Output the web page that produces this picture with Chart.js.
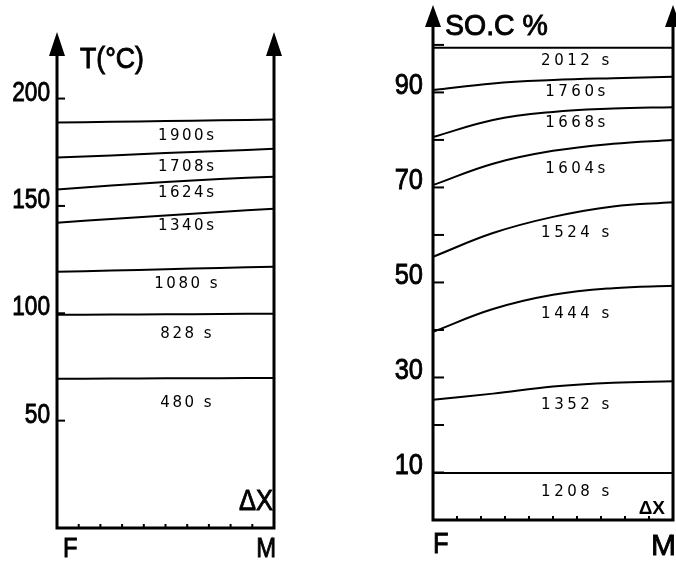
<!DOCTYPE html>
<html>
<head>
<meta charset="utf-8">
<script src="https://cdn.jsdelivr.net/npm/chart.js@4/dist/chart.umd.min.js"></script>
<style>
  html, body { margin: 0; padding: 0; background: #fff; width: 676px; height: 563px; overflow: hidden; }
  .panel { position: absolute; top: 0; }
</style>
</head>
<body>
<div class="panel" style="left:0"><canvas id="tempChart" width="330" height="563"></canvas></div>
<div class="panel" style="left:340px"><canvas id="socChart" width="336" height="563"></canvas></div>
<script>
// position along the cell, F = 0 ... M = 10
const xSteps = [0, 2.5, 5, 7.5, 10];

// temperature profiles (°C)
const t1900 = [188.8, 189.2, 189.5, 189.9, 190.2];
const t1708 = [172.5, 173.5, 174.6, 175.6, 176.6];
const t1624 = [157.6, 159.5, 161.1, 162.5, 163.6];
const t1340 = [142.2, 143.9, 145.5, 147.2, 148.7];
const t1080 = [119.3, 119.9, 120.5, 121.1, 121.7];
const t828  = [99.3, 99.4, 99.5, 99.7, 99.8];
const t480  = [69.5, 69.6, 69.7, 69.8, 69.9];
const tempTimes = ['1900s', '1708s', '1624s', '1340s', '1080 s', '828 s', '480 s'];
const tempTicks = [50, 100, 150, 200];

// state of charge profiles (%)
const s2012 = [99.4, 99.4, 99.4, 99.4, 99.4];
const s1760 = [90.5, 91.9, 92.6, 93.0, 93.3];
const s1668 = [80.6, 84.2, 85.9, 86.6, 86.9];
const s1604 = [70.5, 75.0, 77.7, 79.2, 80.0];
const s1524 = [55.4, 60.4, 63.8, 66.0, 66.9];
const s1444 = [39.6, 44.4, 47.4, 48.8, 49.3];
const s1352 = [25.3, 26.6, 28.1, 28.9, 29.2];
const s1208 = [9.9, 9.9, 9.9, 9.9, 9.9];
const socTimes = ['2012 s', '1760s', '1668s', '1604s', '1524 s', '1444 s', '1352 s', '1208 s'];
const socTicks = [10, 30, 50, 70, 90];
const socMinor = [20, 40, 60, 80, 100];

function makeDatasets(curves) {
  return curves.map(c => ({
    data: xSteps.map((x, i) => ({ x: x, y: c[i] })),
    borderColor: '#000',
    borderWidth: 2,
    pointRadius: 0,
    tension: 0.4
  }));
}

// text squeezed horizontally, the scan uses a narrow and heavy lettering
function narrowText(ctx, str, x, y, sx, align, weight) {
  ctx.save();
  ctx.translate(x, y);
  ctx.scale(sx, 1);
  ctx.textAlign = align;
  ctx.fillText(str, 0, 0);
  if (weight) {
    ctx.lineWidth = weight;
    ctx.strokeText(str, 0, 0);
  }
  ctx.restore();
}

function valueAt(data, x) {
  for (let i = 1; i < data.length; i++) {
    if (x <= data[i].x) {
      const a = data[i - 1], b = data[i];
      return a.y + (b.y - a.y) * (x - a.x) / (b.x - a.x);
    }
  }
  return data[data.length - 1].y;
}

const sketchPlugin = {
  id: 'sketch',
  afterDatasetsDraw(chart, args, opts) {
    const ctx = chart.ctx;
    const area = chart.chartArea;
    const xs = chart.scales.x, ys = chart.scales.y;
    ctx.save();
    ctx.strokeStyle = '#000';
    ctx.fillStyle = '#000';

    // frame with the two arrows
    ctx.lineWidth = 3;
    ctx.beginPath();
    ctx.moveTo(area.left, area.top + opts.arrow[1] - 2);
    ctx.lineTo(area.left, area.bottom);
    ctx.lineTo(area.right, area.bottom);
    ctx.lineTo(area.right, area.top + opts.arrow[1] - 2);
    ctx.stroke();
    [area.left, area.right].forEach(x => {
      ctx.beginPath();
      ctx.moveTo(x, area.top);
      ctx.lineTo(x - opts.arrow[0] / 2, area.top + opts.arrow[1]);
      ctx.lineTo(x + opts.arrow[0] / 2, area.top + opts.arrow[1]);
      ctx.closePath();
      ctx.fill();
    });

    // small ticks along the bottom
    ctx.lineWidth = 2;
    for (let i = 1; i < 10; i++) {
      const x = xs.getPixelForValue(i);
      ctx.beginPath();
      ctx.moveTo(x, area.bottom);
      ctx.lineTo(x, area.bottom - 4);
      ctx.stroke();
    }

    // y ticks pointing inwards
    opts.ticks.concat(opts.minor).forEach(v => {
      const y = ys.getPixelForValue(v);
      ctx.beginPath();
      ctx.moveTo(area.left, y);
      ctx.lineTo(area.left + opts.tickLen, y);
      ctx.stroke();
    });

    // y tick labels
    ctx.font = opts.tickFont;
    ctx.textBaseline = 'alphabetic';
    opts.ticks.forEach(v => {
      narrowText(ctx, String(v), area.left - opts.labelGap, ys.getPixelForValue(v) + 2, opts.squeeze, 'right', 0.9);
    });

    // titles: axis name, ΔX, F and M
    opts.texts.forEach(t => {
      ctx.font = t.font;
      narrowText(ctx, t.text, t.x, t.y, t.sx, t.align, t.weight);
    });

    // time labels under each curve
    ctx.font = opts.curveFont;
    ctx.letterSpacing = opts.spacing + 'px';
    ctx.textBaseline = 'middle';
    ctx.textAlign = 'center';
    const lx = xs.getPixelForValue(6);
    chart.data.datasets.forEach((ds, i) => {
      const y = ys.getPixelForValue(valueAt(ds.data, 6)) + opts.gaps[i];
      ctx.fillText(opts.names[i], lx, y);
    });
    ctx.restore();
  }
};

function baseOptions(yMax, padding, sketch) {
  return {
    responsive: false,
    animation: false,
    layout: { padding: padding },
    scales: {
      x: { type: 'linear', min: 0, max: 10, display: false },
      y: { min: 0, max: yMax, display: false }
    },
    plugins: { legend: { display: false }, tooltip: { enabled: false }, sketch: sketch }
  };
}

new Chart(document.getElementById('tempChart'), {
  type: 'line',
  data: { datasets: makeDatasets([t1900, t1708, t1624, t1340, t1080, t828, t480]) },
  plugins: [sketchPlugin],
  options: baseOptions(231, { left: 57, right: 56, top: 32, bottom: 35 }, {
    arrow: [16, 24],
    ticks: tempTicks,
    minor: [],
    tickLen: 8,
    labelGap: 7,
    tickFont: '28px "Liberation Sans"',
    squeeze: 0.81,
    curveFont: '15px "DejaVu Sans"',
    spacing: 2.5,
    names: tempTimes,
    gaps: [15, 15, 12, 12, 15, 20, 25],
    texts: [
      { text: 'T(°C)', x: 80, y: 68, font: '29px "Liberation Sans"', sx: 0.92, align: 'left', weight: 0.9 },
      { text: 'ΔX', x: 273, y: 510, font: '30px "Liberation Sans"', sx: 0.85, align: 'right', weight: 0.9 },
      { text: 'F', x: 63, y: 557, font: '28px "Liberation Sans"', sx: 0.85, align: 'left', weight: 0.9 },
      { text: 'M', x: 276, y: 557, font: '28px "Liberation Sans"', sx: 0.85, align: 'right', weight: 0.9 }
    ]
  })
});

new Chart(document.getElementById('socChart'), {
  type: 'line',
  data: { datasets: makeDatasets([s2012, s1760, s1668, s1604, s1524, s1444, s1352, s1208]) },
  plugins: [sketchPlugin],
  options: baseOptions(108.4, { left: 93, right: 3, top: 5, bottom: 43 }, {
    arrow: [16, 22],
    ticks: socTicks,
    minor: socMinor,
    tickLen: 11,
    labelGap: 10,
    tickFont: '30px "Liberation Sans"',
    squeeze: 0.85,
    curveFont: '15px "DejaVu Sans"',
    spacing: 3.5,
    names: socTimes,
    gaps: [13, 13, 13, 21, 20, 22, 20, 19],
    texts: [
      { text: 'SO.C %', x: 105, y: 35, font: '30px "Liberation Sans"', sx: 0.95, align: 'left', weight: 0.9 },
      { text: 'ΔX', x: 325, y: 514, font: 'bold 19px "Liberation Sans"', sx: 1, align: 'right' },
      { text: 'F', x: 93, y: 553, font: '30px "Liberation Sans"', sx: 0.85, align: 'left', weight: 0.9 },
      { text: 'M', x: 336, y: 555, font: '30px "Liberation Sans"', sx: 1, align: 'right', weight: 0.9 }
    ]
  })
});
</script>
</body>
</html>
